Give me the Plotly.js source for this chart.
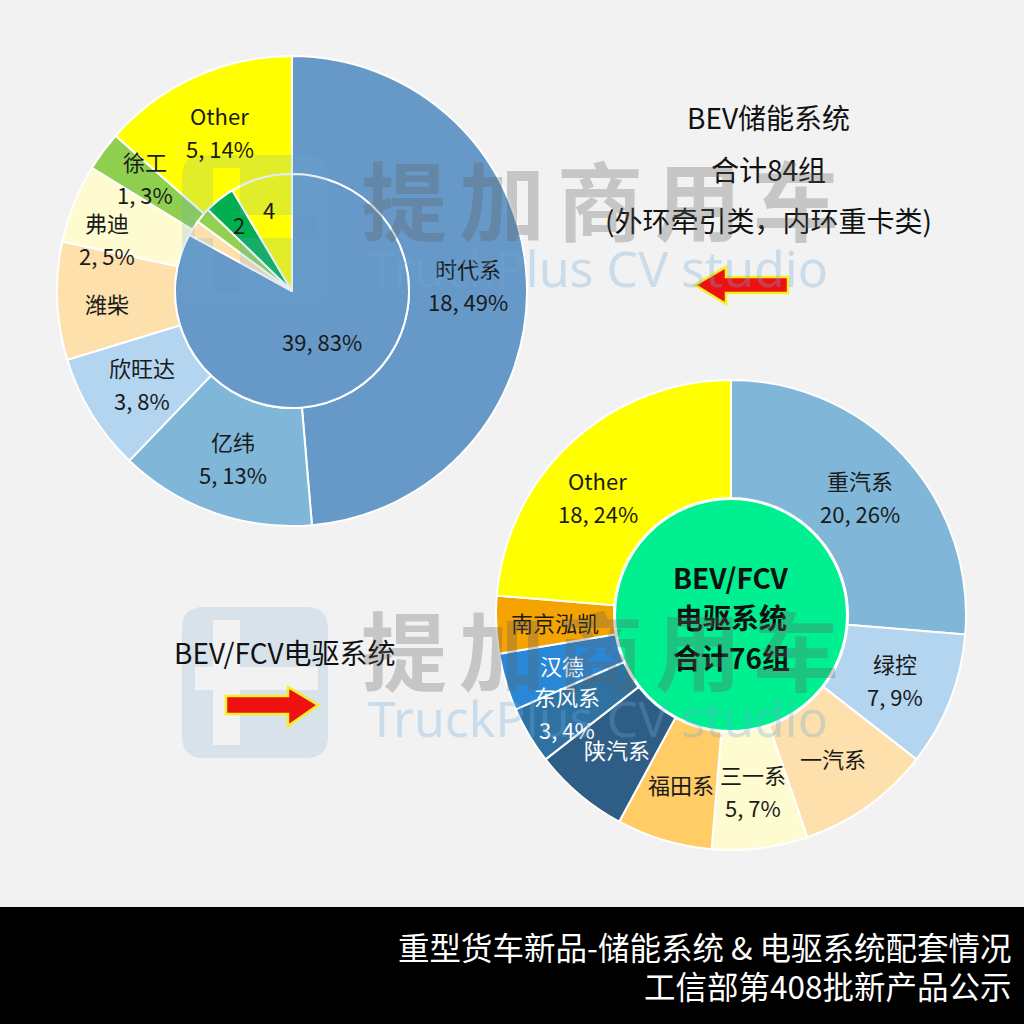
<!DOCTYPE html>
<html>
<head>
<meta charset="utf-8">
<script src="https://cdn.plot.ly/plotly-3.0.1.min.js"></script>
<style>
html,body{margin:0;padding:0;background:#f2f2f2;}
#chart{width:1024px;height:1024px;}
</style>
</head>
<body>
<div id="chart"></div>
<script>
// ---------------- DATA ----------------
// BEV storage systems – outer ring (tractors)
const storageOuterNames  = ['时代系', '亿纬', '欣旺达', '潍柴', '弗迪', '徐工', 'Other'];
const storageOuterValues = [18, 5, 3, 3, 2, 1, 5];
const storageOuterPct    = [49, 13, 8, 8, 5, 3, 14];
const storageOuterShowNum = [true, true, true, false, true, true, true];
const storageOuterColors = ['#6699c8', '#80b6d7', '#b4d5f0', '#fde0ab', '#fffbd0', '#8fcf50', '#ffff00'];

// BEV storage systems – inner pie (heavy trucks)
const storageInnerNames  = ['时代系 ', '潍柴 ', '徐工 ', '其他厂商', 'Other '];
const storageInnerValues = [39, 1, 1, 2, 4];
const storageInnerText   = ['39, 83%', '', '', '2', '4'];
const storageInnerColors = ['#6699c8', '#fde0ab', '#92d050', '#00b050', '#ffff00'];

// BEV/FCV e-drive systems
const driveNames  = ['重汽系', '绿控', '一汽系', '三一系', '福田系', '陕汽系', '东风系', '汉德', '南京泓凯', 'Other'];
const driveValues = [20, 7, 7, 5, 5, 5, 3, 3, 3, 18];
const drivePct    = [26, 9, 9, 7, 7, 7, 4, 4, 4, 24];
const driveShowNum = [true, true, false, true, false, false, true, false, false, true];
const driveColors = ['#80b6d7', '#b4d5f0', '#fde0ab', '#fffbd0', '#ffcc66', '#2e5e86', '#2f72a2', '#2a87d6', '#f4a300', '#ffff00'];
const driveTextColors = ['#1a1a1a', '#1a1a1a', '#1a1a1a', '#1a1a1a', '#1a1a1a', '#ffffff', '#ffffff', '#ffffff', '#1a1a1a', '#1a1a1a'];
const driveTotalLines = ['BEV/FCV', '电驱系统', '合计76组'];

// Texts
const storageTitleLines = ['BEV储能系统', '合计84组', '(外环牵引类，内环重卡类)'];
const driveTitle = 'BEV/FCV电驱系统';
const footerLines = ['重型货车新品-储能系统 & 电驱系统配套情况', '工信部第408批新产品公示'];
const watermarkCN = '提加商用车';
const watermarkEN = 'TruckPlus CV studio';

// ---------------- LAYOUT GEOMETRY ----------------
const W = 1024, H = 1024;
const FONT = '"Noto Sans CJK SC", "Noto Sans", sans-serif';
const PX = x => x / W;
const PY = y => 1 - y / H;
const topG = {cx: 292, cy: 291, R: 235, r: 117};
const botG = {cx: 731, cy: 615, R: 235, r: 117};
// small label nudges (px) to mimic the original's best-fit placement
const outerNudge = {3: [-9, 5], 4: [-22, 13], 5: [-5, -9]};
const driveNudge = {6: [-13, 7], 9: [-14, 10]};
function dom(cx, cy, rad) {
  return {x: [PX(cx - rad), PX(cx + rad)], y: [PY(cy + rad), PY(cy - rad)]};
}
const sum = a => a.reduce((s, v) => s + v, 0);

const traces = [
  {
    type: 'pie', name: 'outer', sort: false, direction: 'clockwise', rotation: 0,
    labels: storageOuterNames, values: storageOuterValues, hole: topG.r / topG.R,
    marker: {colors: storageOuterColors, line: {color: '#ffffff', width: 2}},
    textinfo: 'none', hoverinfo: 'none', showlegend: false,
    domain: dom(topG.cx, topG.cy, topG.R)
  },
  {
    type: 'pie', name: 'inner', sort: false, direction: 'clockwise', rotation: 0,
    labels: storageInnerNames, values: storageInnerValues,
    marker: {colors: storageInnerColors, line: {color: '#ffffff', width: 2}},
    textinfo: 'none', hoverinfo: 'none', showlegend: false,
    domain: dom(topG.cx, topG.cy, topG.r)
  },
  {
    type: 'pie', name: 'drive', sort: false, direction: 'clockwise', rotation: 0,
    labels: driveNames, values: driveValues, hole: botG.r / botG.R,
    marker: {colors: driveColors, line: {color: '#ffffff', width: 2}},
    textinfo: 'none', hoverinfo: 'none', showlegend: false,
    domain: dom(botG.cx, botG.cy, botG.R)
  },
  {
    type: 'pie', name: 'total', sort: false,
    labels: ['合计'], values: [sum(driveValues)],
    marker: {colors: ['#00ef90'], line: {color: '#ffffff', width: 2}},
    textinfo: 'none', hoverinfo: 'none', showlegend: false,
    domain: dom(botG.cx, botG.cy, botG.r - 1)
  }
];

// ---------------- LABELS (positioned from data angles) ----------------
const annotations = [];
function addText(x, y, text, opts) {
  annotations.push(Object.assign({
    xref: 'paper', yref: 'paper', x: PX(x), y: PY(y), text: text, showarrow: false,
    xanchor: 'center', yanchor: 'middle',
    font: {family: FONT, size: 22, color: '#1a1a1a'}
  }, opts || {}));
}
function ringLabels(values, geo, rad, nameArr, numArr, colorArr, radFn, nudge) {
  const tot = sum(values);
  let cum = 0;
  values.forEach((v, i) => {
    const mid = (cum + v / 2) / tot * 2 * Math.PI;
    cum += v;
    const rr = radFn ? radFn(v, tot) : rad;
    const n = (nudge && nudge[i]) || [0, 0];
    const x = geo.cx + rr * Math.sin(mid) + n[0];
    const y = geo.cy - rr * Math.cos(mid) + n[1];
    const col = colorArr ? colorArr[i] : '#1a1a1a';
    const f = {family: FONT, size: 22, color: col};
    const name = nameArr[i], num = numArr[i];
    if (name && num) {
      addText(x, y - 16, name, {font: f});
      addText(x, y + 17, num, {font: f});
    } else if (name || num) {
      addText(x, y, name || num, {font: f});
    }
  });
}
// top outer
ringLabels(storageOuterValues, topG, (topG.R + topG.r) / 2, storageOuterNames,
  storageOuterValues.map((v, i) => storageOuterShowNum[i] ? v + ', ' + storageOuterPct[i] + '%' : ''),
  null, null, outerNudge);
// top inner
ringLabels(storageInnerValues, topG, 0, storageInnerText, storageInnerValues.map(() => ''), null,
  (v, t) => (v / t > 0.5 ? 0.5 : 0.73) * topG.r, null);
// bottom ring
ringLabels(driveValues, botG, (botG.R + botG.r) / 2, driveNames,
  driveValues.map((v, i) => driveShowNum[i] ? v + ', ' + drivePct[i] + '%' : ''),
  driveTextColors, null, driveNudge);

// center of drive ring
driveTotalLines.forEach((t, i) => {
  addText(botG.cx, botG.cy - 38 + i * 40, '<b>' + t + '</b>', {font: {family: FONT, size: 28, color: '#111111'}});
});

// storage title text
storageTitleLines.forEach((t, i) => {
  addText(768, 117 + i * 51.5, t, {font: {family: FONT, size: 28, color: '#111111'}});
});
// drive title
addText(172, 652, driveTitle, {xanchor: 'left', font: {family: FONT, size: 28, color: '#111111'}});

// footer
footerLines.forEach((t, i) => {
  addText(1013, 946 + i * 39, t, {xanchor: 'right', font: {family: FONT, size: 31.5, color: '#ffffff'}});
});

// watermarks
[0, 450].forEach(dy => {
  Array.from(watermarkCN).forEach((ch, k) => {
    addText(404 + k * 98, 197 + dy, '<b>' + ch + '</b>', {font: {family: FONT, size: 86, color: 'rgba(95,95,95,0.30)'}});
  });
  addText(598, 268 + dy, watermarkEN, {font: {family: '"Noto Sans", sans-serif', size: 50, color: 'rgba(110,170,215,0.30)'}});
});

// ---------------- SHAPES ----------------
const P = (x, y) => PX(x) + ',' + PY(y);
function path(pts) {
  return 'M ' + pts.map(p => P(p[0], p[1])).join(' L ') + ' Z';
}
function roundRect(x0, y0, x1, y1, r) {
  return 'M ' + P(x0 + r, y0) + ' L ' + P(x1 - r, y0) + ' Q ' + P(x1, y0) + ' ' + P(x1, y0 + r) +
    ' L ' + P(x1, y1 - r) + ' Q ' + P(x1, y1) + ' ' + P(x1 - r, y1) +
    ' L ' + P(x0 + r, y1) + ' Q ' + P(x0, y1) + ' ' + P(x0, y1 - r) +
    ' L ' + P(x0, y0 + r) + ' Q ' + P(x0, y0) + ' ' + P(x0 + r, y0) + ' Z';
}
const shapes = [
  // footer bar
  {type: 'rect', xref: 'paper', yref: 'paper', x0: 0, x1: 1, y0: 0, y1: PY(907),
   fillcolor: '#000000', line: {width: 0}, layer: 'below'}
];
// logo watermarks (rounded square with a "t"-shaped cut-out)
[0, 452].forEach(dy => {
  const cross = [[213, 168], [240, 168], [240, 215], [318, 215], [318, 238], [240, 238], [240, 293],
                 [213, 293], [213, 238], [195, 238], [195, 215], [213, 215]]
    .map(p => [p[0], p[1] + dy]).reverse();
  shapes.push({type: 'path', xref: 'paper', yref: 'paper', layer: 'above',
    path: roundRect(182, 155 + dy, 328, 306 + dy, 22) + ' ' + path(cross),
    fillcolor: 'rgba(110,165,210,0.20)', line: {width: 0}});
});
// arrows
shapes.push({type: 'path', xref: 'paper', yref: 'paper', layer: 'above',
  path: path([[695, 285], [726, 267], [726, 277], [788, 277], [788, 293], [726, 293], [726, 304]]),
  fillcolor: '#ee1111', line: {color: '#f5f020', width: 2.5}});
shapes.push({type: 'path', xref: 'paper', yref: 'paper', layer: 'above',
  path: path([[318, 705], [288, 687], [288, 696], [226, 696], [226, 714], [288, 714], [288, 726]]),
  fillcolor: '#ee1111', line: {color: '#f5f020', width: 2.5}});

const layout = {
  width: W, height: H,
  margin: {l: 0, r: 0, t: 0, b: 0, pad: 0},
  paper_bgcolor: '#f2f2f2', plot_bgcolor: '#f2f2f2',
  showlegend: false,
  font: {family: FONT},
  annotations: annotations,
  shapes: shapes
};

Plotly.newPlot('chart', traces, layout, {displayModeBar: false, staticPlot: true});
</script>
</body>
</html>
